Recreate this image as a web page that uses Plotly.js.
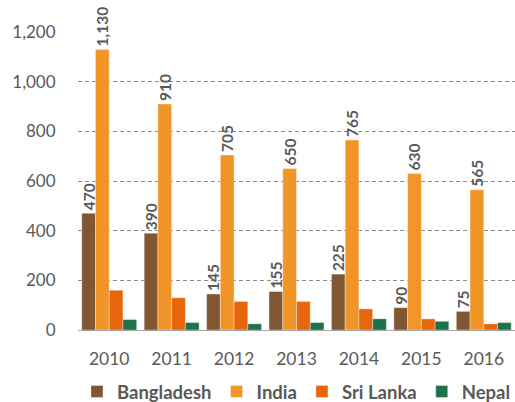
<!DOCTYPE html>
<html>
<head>
<meta charset="utf-8">
<script src="https://cdn.plot.ly/plotly-3.0.1.min.js"></script>
<style>html,body{margin:0;padding:0;background:#fff;}#chart{width:515px;height:402px;}</style>
</head>
<body>
<div id="chart"></div>
<script>
const years = ['2010','2011','2012','2013','2014','2015','2016'];
const bangladesh = [470, 390, 145, 155, 225, 90, 75];
const india = [1130, 910, 705, 650, 765, 630, 565];
const sriLanka = [160, 130, 115, 115, 85, 45, 25];
const nepal = [42, 30, 25, 30, 45, 35, 30];
const yTicks = [0, 200, 400, 600, 800, 1000, 1200];

const FONT = 'Lato, "Open Sans", sans-serif';
const GREY = '#595959';

function series(name, vals, color, labels) {
  const t = {
    type: 'bar', name: name, x: years, y: vals,
    marker: {color: color, line: {color: 'rgba(255,255,255,0.6)', width: 0.6}},
    cliponaxis: false, hoverinfo: 'skip'
  };
  if (labels) {
    t.text = vals.map(v => v.toLocaleString('en-US'));
    t.textposition = 'outside';
    t.textangle = -90;
    t.constraintext = 'none';
    t.textfont = {family: FONT, size: 15.5, color: GREY, weight: 'bold'};
  }
  return t;
}

const data = [
  series('Bangladesh', bangladesh, '#815733', true),
  series('India', india, '#F29528', true),
  series('Sri Lanka', sriLanka, '#E8660B', false),
  series('Nepal', nepal, '#1D7349', false)
];

const layout = {
  width: 515, height: 402,
  margin: {l: 78, r: 0, t: 32, b: 72, autoexpand: false},
  paper_bgcolor: '#fff', plot_bgcolor: '#fff',
  barmode: 'group', bargap: 0.12, bargroupgap: 0,
  font: {family: FONT, color: GREY, size: 17},
  showlegend: true,
  legend: {orientation: 'h', x: 0.5, xanchor: 'center', yref: 'container', y: 0.025, yanchor: 'middle',
           font: {family: FONT, size: 18.5, color: GREY, weight: 'bold'},
           itemwidth: 30, tracegroupgap: 0},
  xaxis: {type: 'category', showgrid: false, showline: true, linecolor: '#a6a6a6', linewidth: 1,
          automargin: false,
          ticks: 'outside', ticklen: 13, tickcolor: 'rgba(0,0,0,0)',
          tickfont: {family: FONT, size: 17.5, color: GREY}},
  yaxis: {range: [0, 1200], tickvals: yTicks, ticktext: yTicks.map(v => v.toLocaleString('en-US')),
          automargin: false,
          showgrid: true, gridcolor: '#8c8c8c', griddash: '4px,3px', gridwidth: 1,
          zeroline: false, showline: false,
          ticks: 'outside', ticklen: 18, tickcolor: 'rgba(0,0,0,0)',
          tickfont: {family: FONT, size: 17, color: GREY}}
};

Plotly.newPlot('chart', data, layout, {displayModeBar: false, staticPlot: true});
</script>
</body>
</html>
